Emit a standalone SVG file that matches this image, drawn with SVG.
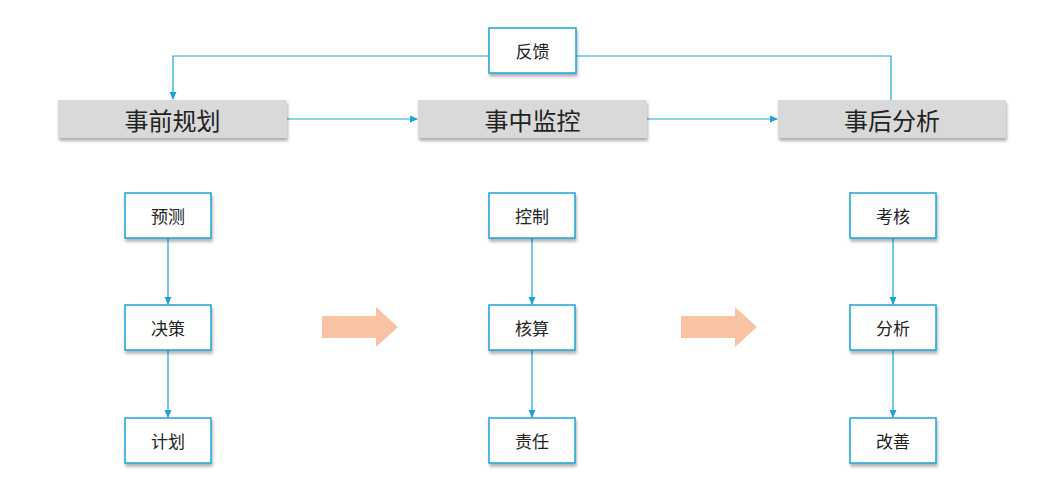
<svg xmlns="http://www.w3.org/2000/svg" width="1053" height="500" viewBox="0 0 1053 500">
<defs>
<marker id="a" markerWidth="8" markerHeight="8" refX="7" refY="4" orient="auto" markerUnits="userSpaceOnUse"><path d="M0,0.5 L8,4 L0,7.5 Z" fill="#1aa3d9"/></marker>
<filter id="sh" x="-10%" y="-20%" width="120%" height="150%"><feDropShadow dx="1" dy="3" stdDeviation="1.5" flood-color="#000" flood-opacity="0.3"/></filter>
<style>
.h{fill:#d9d9d9;filter:url(#sh)}
.b{fill:#fff;stroke:#1aa3d9;stroke-width:1.5;filter:url(#sh)}
.t{font-family:"Noto Sans CJK SC",sans-serif;fill:#222;text-anchor:middle;dominant-baseline:central}
.ht{font-size:24px}.st{font-size:17px}
.c{stroke:#1aa3d9;stroke-width:1.2;fill:none}
.bg{fill:#f7c3a3}
</style>
</defs>
<g id="connectors">
<path class="c" d="M489,56 H173 V99" marker-end="url(#a)"/>
<path class="c" d="M576,56 H891 V100"/>
<path class="c" d="M287,119 H417" marker-end="url(#a)"/>
<path class="c" d="M647,119 H777" marker-end="url(#a)"/>
<path class="c" d="M168,238 V304" marker-end="url(#a)"/>
<path class="c" d="M168,350 V417" marker-end="url(#a)"/>
<path class="c" d="M532,238 V304" marker-end="url(#a)"/>
<path class="c" d="M532,350 V417" marker-end="url(#a)"/>
<path class="c" d="M893,238 V304" marker-end="url(#a)"/>
<path class="c" d="M893,350 V417" marker-end="url(#a)"/>
</g>
<g id="fb"><rect class="b" x="489" y="28" width="87" height="45"/><text class="t st" x="532.5" y="50.5">反馈</text></g>
<g id="h1"><rect class="h" x="58" y="100" width="229" height="38"/><text class="t ht" x="172.5" y="119">事前规划</text></g>
<g id="h2"><rect class="h" x="418" y="100" width="229" height="38"/><text class="t ht" x="532.5" y="119">事中监控</text></g>
<g id="h3"><rect class="h" x="778" y="100" width="228" height="38"/><text class="t ht" x="892" y="119">事后分析</text></g>
<g id="n1"><rect class="b" x="125" y="193" width="86" height="45"/><text class="t st" x="168" y="215.5">预测</text></g>
<g id="n2"><rect class="b" x="125" y="305" width="86" height="45"/><text class="t st" x="168" y="327.5">决策</text></g>
<g id="n3"><rect class="b" x="125" y="418" width="86" height="45"/><text class="t st" x="168" y="440.5">计划</text></g>
<g id="n4"><rect class="b" x="489" y="193" width="86" height="45"/><text class="t st" x="532" y="215.5">控制</text></g>
<g id="n5"><rect class="b" x="489" y="305" width="86" height="45"/><text class="t st" x="532" y="327.5">核算</text></g>
<g id="n6"><rect class="b" x="489" y="418" width="86" height="45"/><text class="t st" x="532" y="440.5">责任</text></g>
<g id="n7"><rect class="b" x="850" y="193" width="86" height="45"/><text class="t st" x="893" y="215.5">考核</text></g>
<g id="n8"><rect class="b" x="850" y="305" width="86" height="45"/><text class="t st" x="893" y="327.5">分析</text></g>
<g id="n9"><rect class="b" x="850" y="418" width="86" height="45"/><text class="t st" x="893" y="440.5">改善</text></g>
<g id="arrows">
<path class="bg" d="M322,316 H376 V307 L398,327 L376,347 V338 H322 Z"/>
<path class="bg" d="M681,316 H735 V307 L757,327 L735,347 V338 H681 Z"/>
</g>
</svg>
